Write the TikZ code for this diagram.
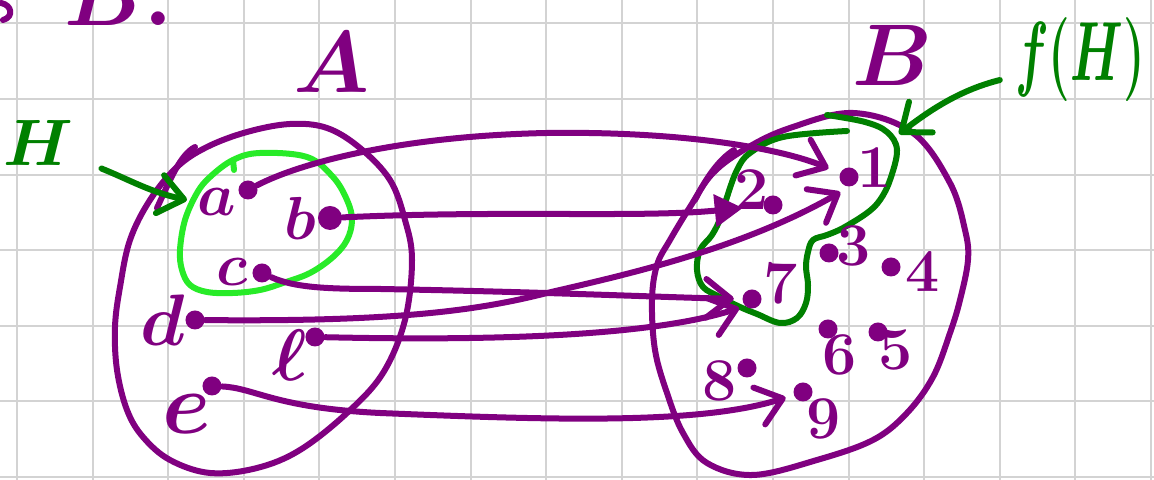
\documentclass[tikz,border=0pt]{standalone}
\usetikzlibrary{arrows.meta}
\definecolor{purp}{RGB}{128,0,128}
\definecolor{dgreen}{RGB}{0,128,0}
\definecolor{lgreen}{RGB}{40,235,40}
\definecolor{gridc}{RGB}{211,211,211}
\begin{document}
\begin{tikzpicture}[x=0.01cm,y=-0.01cm,
  stroke/.style={purp, line width=0.06cm, line cap=round, line join=round},
  gstroke/.style={dgreen, line width=0.06cm, line cap=round, line join=round},
  lgstroke/.style={lgreen, line width=0.06cm, line cap=round, line join=round},
  map/.style={stroke, -{Straight Barb[length=7pt,width=11pt,round]}},
  garrow/.style={gstroke, -{Straight Barb[length=7pt,width=11pt,round]}},
  pt/.style={circle, fill=purp, inner sep=0pt, minimum size=0.19cm},
  lab/.style={text=purp, inner sep=0pt, font=\fontsize{18}{20}\selectfont\boldmath},
  num/.style={text=purp, inner sep=0pt, font=\fontsize{17}{20}\selectfont\boldmath},
  biglab/.style={text=purp, inner sep=0pt, font=\fontsize{24}{28}\selectfont\boldmath},
  gbiglab/.style={text=dgreen, inner sep=0pt, font=\fontsize{22}{26}\selectfont\boldmath},
]
\useasboundingbox (0,0) rectangle (1154,480);
\fill[white] (0,0) rectangle (1154,480);
% grid
\foreach \k in {0,...,15} \draw[gridc, line width=0.02cm] ({17+75.6*\k},0) -- ({17+75.6*\k},480);
\foreach \k in {0,...,6} \draw[gridc, line width=0.02cm] (0,{23.5+75.6*\k}) -- (1154,{23.5+75.6*\k});

% top cropped text
\draw[stroke] (1,3) .. controls (12,5) and (14,17) .. (3,20);
\node[biglab, anchor=base west] (topB) at (64,26) {$B.$};

% set labels
\node[biglab] (capA) at (332,62) {$A$};
\node[biglab] (capB) at (893,55) {$B$};
\node[gbiglab] (labH) at (38,143) {\scalebox{0.9}{$H$}};
\node[gbiglab] (labfH) at (1080,60) {\scalebox{0.68}[1.15]{$f(H)$}};

% set A
\draw[stroke] plot[smooth cycle, tension=0.6] coordinates {(290,124) (327,128) (360,148) (390,180) (405,220) (412,260) (405,320) (383,373) (347,413) (300,450) (257,468) (210,473) (170,460) (143,437) (127,410) (117,370) (115,327) (120,287) (130,240) (150,200) (177,167) (207,147) (247,132)};
\draw[stroke] (157,208) .. controls (170,180) and (180,155) .. (195,147);

% subset H (light green)
\draw[lgstroke] plot[smooth cycle, tension=0.6] coordinates {(233,160) (260,153) (307,157) (333,177) (347,200) (352,220) (347,240) (333,257) (310,273) (283,283) (260,290) (233,293) (207,292) (190,285) (182,270) (180,250) (185,220) (197,193) (210,177)};
\draw[lgstroke] (233,160) -- (234,170);

% set B
\draw[stroke] plot[smooth cycle, tension=0.6] coordinates {(853,113) (913,133) (950,183) (965,230) (968,260) (960,300) (950,333) (933,377) (907,413) (873,440) (817,460) (753,475) (707,463) (683,433) (667,393) (655,350) (652,300) (657,265) (670,240) (690,207) (713,173) (747,148) (790,128)};
\draw[stroke] (695,200) .. controls (705,180) and (718,160) .. (734,150);

% f(H) region (dark green)
\draw[gstroke] plot[smooth, tension=0.6] coordinates {(827,115) (865,122) (887,132) (897,150) (890,180) (880,200) (867,213) (843,228) (827,235) (813,240) (808,252) (806,267) (808,285) (806,303) (797,318) (780,323) (757,314) (740,307) (720,297) (703,287) (697,270) (700,250) (712,235) (721,217) (727,197) (737,170) (750,153) (783,137) (847,131)};

% elements of A
\node[pt] (adot) at (248,190) {};
\node[lab] (la) at (217,202) {$a$};
\node[pt, minimum width=0.24cm] (bdot) at (330,218) {};
\node[lab] (lb) at (300,218) {$b$};
\node[pt] (cdot) at (262,273) {};
\node[lab] (lc) at (232,272) {$c$};
\node[pt] (ddot) at (195,320) {};
\node[lab, font=\fontsize{21}{24}\selectfont\boldmath] (ld) at (163,320) {$d$};
\node[pt] (ldot) at (315,337) {};
\node[lab, font=\fontsize{22}{24}\selectfont\boldmath] (ll) at (290,355) {$\ell$};
\node[pt] (edot) at (212,386) {};
\node[lab, font=\fontsize{26}{28}\selectfont\boldmath] (le) at (187,414) {$e$};

% elements of B
\node[pt] (one) at (849,177) {};
\node[num] (n1) at (875,168) {$1$};
\node[pt] (two) at (773,205) {};
\node[num] (n2) at (752,190) {$2$};
\node[pt] (three) at (829,253) {};
\node[num] (n3) at (854,246) {$3$};
\node[pt] (four) at (891,267) {};
\node[num] (n4) at (923,272) {$4$};
\node[pt] (five) at (878,332) {};
\node[num] (n5) at (896,350) {$5$};
\node[pt] (six) at (828,329) {};
\node[num] (n6) at (840,355) {$6$};
\node[pt] (seven) at (752,299) {};
\node[num] (n7) at (781,284) {$7$};
\node[pt] (eight) at (747,368) {};
\node[num] (n8) at (720,381) {$8$};
\node[pt] (nine) at (803,392) {};
\node[num] (n9) at (824,419) {$9$};

% mappings
\draw[map, shorten >=0.12cm] (adot) .. controls (300,163) and (400,136) .. (547,133) .. controls (690,131) and (785,150) .. (one);
\draw[stroke, -{Triangle[length=8pt,width=9pt]}, shorten >=0.2cm] (bdot) .. controls (500,210) and (640,218) .. (two);
\draw[map, shorten >=0.08cm] (cdot) .. controls (295,288) and (330,289) .. (380,289) .. controls (550,292) and (680,298) .. (seven);
\draw[map, shorten >=0.1cm] (ddot) .. controls (400,322) and (480,310) .. (547,293) .. controls (620,276) and (740,250) .. (one.south);
\draw[map, shorten >=0.06cm] (ldot) .. controls (450,340) and (640,340) .. (seven.south west);
\draw[map, shorten >=0.08cm] (edot) .. controls (255,388) and (275,408) .. (380,413) .. controls (550,420) and (700,425) .. (nine);

% green pointers
\coordinate (hcirc) at (187,200);
\coordinate (fcirc) at (899,134);
\draw[garrow, shorten <=0.3cm] (labH) .. controls (130,180) and (150,192) .. (hcirc);
\draw[garrow, shorten <=0.15cm] (labfH) .. controls (960,90) and (930,110) .. (fcirc);
\end{tikzpicture}
\end{document}
